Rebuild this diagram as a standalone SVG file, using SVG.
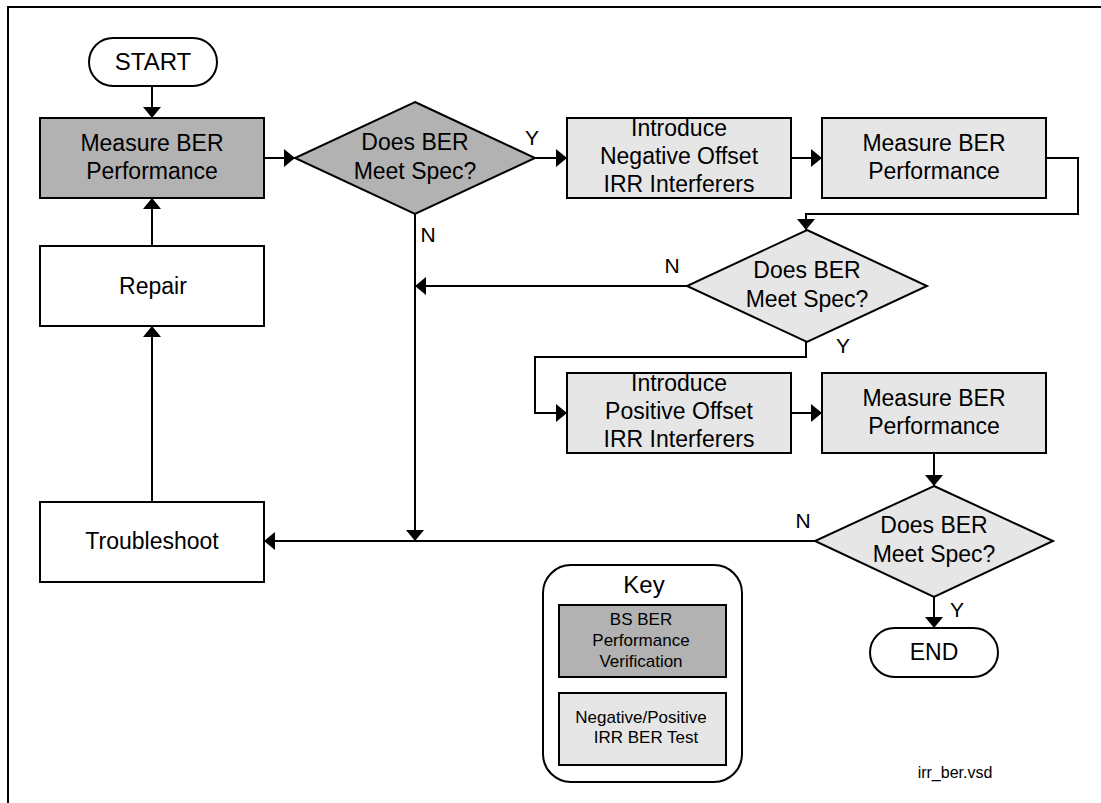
<svg xmlns="http://www.w3.org/2000/svg" width="1101" height="803" viewBox="0 0 1101 803">
<style>
text{font-family:"Liberation Sans",Arial,sans-serif;fill:#000;text-anchor:middle}
.t{font-size:23px}
.lbl{font-size:21px}
.sm{font-size:17px}
.box{stroke:#000;stroke-width:2}
.dark{fill:#b2b2b2}
.light{fill:#e6e6e6}
.white{fill:#fff}
.ln{fill:none;stroke:#000;stroke-width:2}
</style>
<defs>
<marker id="ah" markerUnits="userSpaceOnUse" markerWidth="12" markerHeight="18" refX="11" refY="9" orient="auto">
<path d="M0,0 L11,9 L0,18 Z" fill="#000"/>
</marker>
</defs>
<rect width="1101" height="803" fill="#fff"/>
<path d="M8,803 V7 H1101" fill="none" stroke="#000" stroke-width="2"/>

<g id="connectors">
<path class="ln" d="M152,86 V118" marker-end="url(#ah)"/>
<path class="ln" d="M264,158 H295" marker-end="url(#ah)"/>
<path class="ln" d="M535,158 H567" marker-end="url(#ah)"/>
<path class="ln" d="M791,158 H822" marker-end="url(#ah)"/>
<path class="ln" d="M1046,158 H1078 V214 H806 V230" marker-end="url(#ah)"/>
<path class="ln" d="M687,286 H415" marker-end="url(#ah)"/>
<path class="ln" d="M415,214 V541" marker-end="url(#ah)"/>
<path class="ln" d="M806,342 V357 H535 V413 H567" marker-end="url(#ah)"/>
<path class="ln" d="M791,413 H822" marker-end="url(#ah)"/>
<path class="ln" d="M934,453 V486" marker-end="url(#ah)"/>
<path class="ln" d="M815,541 H264" marker-end="url(#ah)"/>
<path class="ln" d="M934,597 V628" marker-end="url(#ah)"/>
<path class="ln" d="M152,502 V326" marker-end="url(#ah)"/>
<path class="ln" d="M152,246 V198" marker-end="url(#ah)"/>
<text class="lbl" x="532" y="145">Y</text>
<text class="lbl" x="428" y="242">N</text>
<text class="lbl" x="672" y="273">N</text>
<text class="lbl" x="843" y="353">Y</text>
<text class="lbl" x="803" y="528">N</text>
<text class="lbl" x="957" y="617">Y</text>
</g>

<g id="start">
<rect class="box white" x="89" y="38" width="128" height="48" rx="24"/>
<text x="153" y="70" style="font-size:24px">START</text>
</g>

<g id="measure1">
<rect class="box dark" x="40" y="118" width="224" height="80"/>
<text class="t" x="152" y="151">Measure BER</text>
<text class="t" x="152" y="179">Performance</text>
</g>

<g id="decision1">
<polygon class="box dark" points="415,102 535,158 415,214 295,158"/>
<text class="t" x="415" y="150">Does BER</text>
<text class="t" x="415" y="179">Meet Spec?</text>
</g>

<g id="neg-offset">
<rect class="box light" x="567" y="118" width="224" height="80"/>
<text class="t" x="679" y="136">Introduce</text>
<text class="t" x="679" y="164">Negative Offset</text>
<text class="t" x="679" y="192">IRR Interferers</text>
</g>

<g id="measure2">
<rect class="box light" x="822" y="118" width="224" height="80"/>
<text class="t" x="934" y="151">Measure BER</text>
<text class="t" x="934" y="179">Performance</text>
</g>

<g id="decision2">
<polygon class="box light" points="807,230 927,286 807,342 687,286"/>
<text class="t" x="807" y="278">Does BER</text>
<text class="t" x="807" y="307">Meet Spec?</text>
</g>

<g id="repair">
<rect class="box white" x="40" y="246" width="224" height="80"/>
<text class="t" x="153" y="294">Repair</text>
</g>

<g id="pos-offset">
<rect class="box light" x="567" y="373" width="224" height="80"/>
<text class="t" x="679" y="391">Introduce</text>
<text class="t" x="679" y="419">Positive Offset</text>
<text class="t" x="679" y="447">IRR Interferers</text>
</g>

<g id="measure3">
<rect class="box light" x="822" y="373" width="224" height="80"/>
<text class="t" x="934" y="406">Measure BER</text>
<text class="t" x="934" y="434">Performance</text>
</g>

<g id="decision3">
<polygon class="box light" points="934,486 1053,541 934,597 815,541"/>
<text class="t" x="934" y="533">Does BER</text>
<text class="t" x="934" y="562">Meet Spec?</text>
</g>

<g id="troubleshoot">
<rect class="box white" x="40" y="502" width="224" height="80"/>
<text class="t" x="152" y="549">Troubleshoot</text>
</g>

<g id="end">
<rect class="box white" x="870" y="628" width="128" height="49" rx="24.5"/>
<text x="934" y="660" style="font-size:23px">END</text>
</g>

<g id="key">
<rect class="box white" x="543" y="565" width="199" height="217" rx="28"/>
<text x="644" y="593" style="font-size:24px">Key</text>
<rect class="box dark" x="559" y="605" width="167" height="72"/>
<text class="sm" x="641" y="625">BS BER</text>
<text class="sm" x="641" y="646">Performance</text>
<text class="sm" x="641" y="667">Verification</text>
<rect class="box light" x="559" y="693" width="167" height="72"/>
<text class="sm" x="641" y="723">Negative/Positive</text>
<text class="sm" x="646" y="743">IRR BER Test</text>
</g>

<g id="filename">
<text x="955" y="778" style="font-size:16px">irr_ber.vsd</text>
</g>
</svg>
